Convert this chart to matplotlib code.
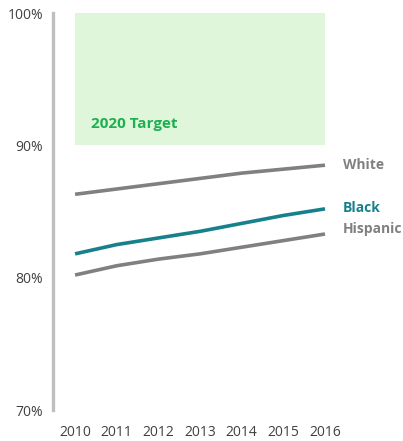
import numpy as np
import matplotlib
matplotlib.use('Agg')
import matplotlib.pyplot as plt

plt.rcParams['font.family'] = ['Open Sans', 'DejaVu Sans']

# Graduation rate by group, percent
years = [2010, 2011, 2012, 2013, 2014, 2015, 2016]
white = [86.3, 86.7, 87.1, 87.5, 87.9, 88.2, 88.5]
black = [81.8, 82.5, 83.0, 83.5, 84.1, 84.7, 85.2]
hispanic = [80.2, 80.9, 81.4, 81.8, 82.3, 82.8, 83.3]
target_low, target_high = 90, 100
yticks = [70, 80, 90, 100]

gray = '#808080'
teal = '#17808D'
green = '#1DAF50'

fig = plt.figure(figsize=(4.03, 4.41), dpi=100)
ax = fig.add_axes([53/403, 1 - 410/441, (335 - 53)/403, 397/441])

# target band
ax.fill_between([years[0], years[-1]], target_low, target_high,
                color='#DFF6DB', linewidth=0)
ax.text(2010.38, 91.6, '2020 Target', color=green, fontsize=11,
        fontweight='bold', va='center', ha='left')

ax.plot(years, white, color=gray, lw=2.6, solid_capstyle='butt')
ax.plot(years, black, color=teal, lw=2.6, solid_capstyle='butt')
ax.plot(years, hispanic, color=gray, lw=2.6, solid_capstyle='butt')

lx = 2016.43
ax.text(lx, white[-1] + 0.05, 'White', color=gray, fontsize=10,
        fontweight='bold', va='center', clip_on=False)
ax.text(lx, black[-1] + 0.05, 'Black', color=teal, fontsize=10,
        fontweight='bold', va='center', clip_on=False)
ax.text(lx, hispanic[-1] + 0.4, 'Hispanic', color=gray, fontsize=10,
        fontweight='bold', va='center', clip_on=False)

ax.set_xlim(2009.47, 2016.24)
ax.set_ylim(70, 100)
ax.set_yticks(yticks)
ax.set_yticklabels([f'{t}%' for t in yticks])
ax.set_xticks(years)
ax.set_xticklabels([str(y) for y in years])

for s in ['top', 'right', 'bottom']:
    ax.spines[s].set_visible(False)
ax.spines['left'].set_color('#BFBFBF')
ax.spines['left'].set_linewidth(2.4)
ax.tick_params(axis='both', length=0, labelsize=10, colors='#404040')
ax.tick_params(axis='y', pad=7)
ax.tick_params(axis='x', pad=11)
ax.patch.set_alpha(0)

fig.savefig('out.png', dpi=100)
